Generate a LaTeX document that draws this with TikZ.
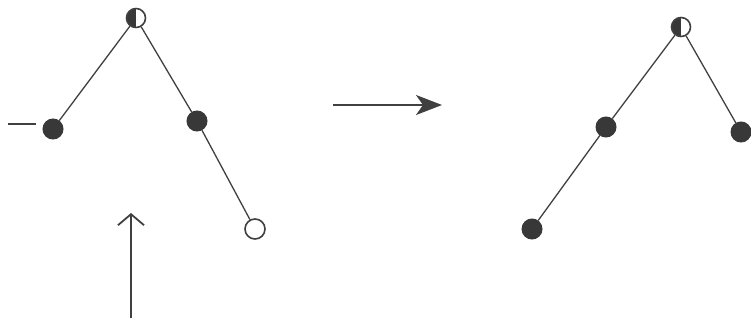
\documentclass[tikz,border=0pt]{standalone}
\usetikzlibrary{arrows.meta}
\definecolor{ink}{HTML}{404040}
\definecolor{dot}{HTML}{383838}
\begin{document}
\begin{tikzpicture}[x=1pt,y=-1pt,
  full/.style={circle, fill=dot, draw=dot, line width=1pt, minimum size=20pt, inner sep=0pt},
  openn/.style={circle, draw=ink, fill=white, line width=1.6pt, minimum size=20pt, inner sep=0pt},
  half/.style={circle, draw=ink, fill=white, line width=1.6pt, minimum size=19pt, inner sep=0pt,
    path picture={\fill[dot] (path picture bounding box.south) rectangle (path picture bounding box.north west);}},
  edge/.style={draw=ink, line width=1.3pt},
  bigarrow/.style={draw=ink, line width=1.6pt, -{Stealth[length=26pt,width=20pt,inset=7pt]}},
  uparrow/.style={draw=ink, line width=1.6pt, -{Straight Barb[length=11pt,width=26pt,line width=1.8pt]}}]
\useasboundingbox (0,0) rectangle (751,321);
% left tree
\node[half] (r1) at (136,18) {};
\node[full] (a1) at (53,129) {};
\node[full] (b1) at (197,121) {};
\node[openn] (c1) at (255,229) {};
\draw[edge] (r1) -- (a1);
\draw[edge] (r1) -- (b1);
\draw[edge] (b1) -- (c1);
\coordinate (d1) at (8,124);
\coordinate (d2) at (36,124);
\draw[edge] (d1) -- (d2);
% upward arrow
\coordinate (u1) at (131,318);
\coordinate (u2) at (131,213);
\draw[uparrow] (u1) -- (u2);
% middle arrow
\coordinate (m1) at (333,105);
\coordinate (m2) at (442,105);
\draw[bigarrow] (m1) -- (m2);
% right tree
\node[half] (r2) at (681,27) {};
\node[full] (a2) at (606,127) {};
\node[full] (b2) at (532,229) {};
\node[full] (c2) at (741,132) {};
\draw[edge] (r2) -- (a2);
\draw[edge] (a2) -- (b2);
\draw[edge] (r2) -- (c2);
\end{tikzpicture}
\end{document}
